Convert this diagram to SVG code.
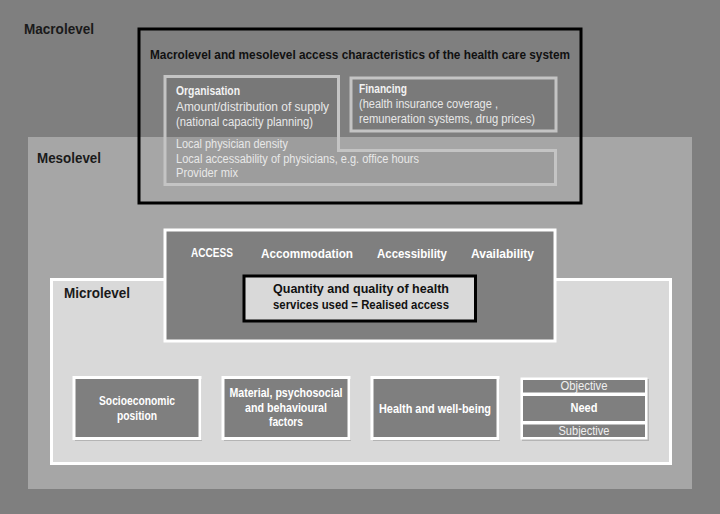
<svg xmlns="http://www.w3.org/2000/svg" width="720" height="514" viewBox="0 0 720 514">
<style>
text{font-family:"Liberation Sans","DejaVu Sans",sans-serif;}
.lvl{font-size:14px;font-weight:bold;fill:#1a1a1a;}
.hd{font-size:13px;font-weight:bold;fill:#111;}
.lt{font-size:12px;fill:#e8e8e8;}
.ltb{font-size:12px;font-weight:bold;fill:#f2f2f2;}
.acc{font-size:13px;font-weight:bold;fill:#fff;}
.wb{font-size:12px;font-weight:bold;fill:#fff;text-anchor:middle;}
.wr{font-size:12px;fill:#f0f0f0;text-anchor:middle;}
.box{fill:#7f7f7f;stroke:#fff;stroke-width:3;}
.shadow{fill:#b4b4b4;}
.outline{fill:none;stroke:#c4c4c4;stroke-width:3;}
</style>
<rect x="0" y="0" width="720" height="514" fill="#7f7f7f"/>
<g id="mesolevel">
<rect x="28" y="137" width="664" height="352" fill="#a6a6a6"/>
<text class="lvl" x="37" y="163" textLength="64" lengthAdjust="spacingAndGlyphs">Mesolevel</text>
</g>
<g id="macrolevel-label">
<text class="lvl" x="24" y="34" textLength="70" lengthAdjust="spacingAndGlyphs">Macrolevel</text>
</g>
<g id="microlevel">
<rect x="51.5" y="279.5" width="619" height="184" fill="#d9d9d9" stroke="#fff" stroke-width="3"/>
<text class="lvl" x="64" y="298" textLength="66" lengthAdjust="spacingAndGlyphs">Microlevel</text>
</g>
<g id="health-care-system">
<rect x="139" y="29" width="442" height="174" fill="none" stroke="#000" stroke-width="3"/>
<text class="hd" x="150" y="59" textLength="420" lengthAdjust="spacingAndGlyphs">Macrolevel and mesolevel access characteristics of the health care system</text>
</g>
<g id="organisation">
<path d="M165,76.5 H338.5 V150.5 H555.5 V184.5 H165 Z" fill="#000" fill-opacity="0.05"/>
<path class="outline" d="M165,76.5 H338.5 V150.5 H555.5 V184.5 H165 Z"/>
<text class="ltb" x="176" y="95" textLength="64" lengthAdjust="spacingAndGlyphs">Organisation</text>
<text class="lt" x="176" y="111" textLength="153" lengthAdjust="spacingAndGlyphs">Amount/distribution of  supply</text>
<text class="lt" x="176" y="125.5" textLength="137" lengthAdjust="spacingAndGlyphs">(national capacity planning)</text>
<text class="lt" x="176" y="148" textLength="112" lengthAdjust="spacingAndGlyphs">Local physician density</text>
<text class="lt" x="176" y="162.5" textLength="243" lengthAdjust="spacingAndGlyphs">Local accessability of physicians, e.g. office hours</text>
<text class="lt" x="176" y="177" textLength="62" lengthAdjust="spacingAndGlyphs">Provider mix</text>
</g>
<g id="financing">
<rect x="351" y="78" width="205" height="53" fill="#7a7a7a" stroke="#c4c4c4" stroke-width="3"/>
<text class="ltb" x="359" y="93" textLength="48" lengthAdjust="spacingAndGlyphs">Financing</text>
<text class="lt" x="359" y="107.5" textLength="139" lengthAdjust="spacingAndGlyphs">(health insurance coverage ,</text>
<text class="lt" x="359" y="122.5" textLength="176" lengthAdjust="spacingAndGlyphs">remuneration systems, drug prices)</text>
</g>
<g id="access">
<rect class="box" x="165" y="230" width="390" height="111"/>
<text class="acc" x="191" y="256.5" textLength="42" lengthAdjust="spacingAndGlyphs">ACCESS</text>
<text class="acc" x="261" y="257.5" textLength="92" lengthAdjust="spacingAndGlyphs">Accommodation</text>
<text class="acc" x="377" y="257.5" textLength="70" lengthAdjust="spacingAndGlyphs">Accessibility</text>
<text class="acc" x="471" y="257.5" textLength="63" lengthAdjust="spacingAndGlyphs">Availability</text>
</g>
<g id="realised-access">
<rect x="244" y="276" width="231.5" height="45" fill="#d9d9d9" stroke="#000" stroke-width="3"/>
<text class="hd" x="273" y="293" textLength="176" lengthAdjust="spacingAndGlyphs">Quantity and quality of  health</text>
<text class="hd" x="273" y="309" textLength="176" lengthAdjust="spacingAndGlyphs">services used = Realised access</text>
</g>
<g id="socioeconomic">
<rect class="shadow" x="75" y="379" width="127" height="62"/>
<rect class="box" x="74" y="377.5" width="126" height="61"/>
<text class="wb" x="137" y="405" textLength="76" lengthAdjust="spacingAndGlyphs">Socioeconomic</text>
<text class="wb" x="137" y="419.5" textLength="40" lengthAdjust="spacingAndGlyphs">position</text>
</g>
<g id="material">
<rect class="shadow" x="224" y="379" width="127" height="62"/>
<rect class="box" x="223" y="377.5" width="126" height="61"/>
<text class="wb" x="286" y="396.5" textLength="113" lengthAdjust="spacingAndGlyphs">Material, psychosocial</text>
<text class="wb" x="286" y="411.5" textLength="82" lengthAdjust="spacingAndGlyphs">and behavioural</text>
<text class="wb" x="286" y="426" textLength="34" lengthAdjust="spacingAndGlyphs">factors</text>
</g>
<g id="health">
<rect class="shadow" x="373" y="379" width="127" height="62"/>
<rect class="box" x="372" y="377.5" width="126" height="61"/>
<text class="wb" x="435" y="412.5" textLength="112" lengthAdjust="spacingAndGlyphs">Health and well-being</text>
</g>
<g id="need">
<rect class="shadow" x="522" y="379" width="127" height="62"/>
<rect x="520.5" y="377.5" width="127" height="62" fill="#fff"/>
<rect x="523" y="380" width="122" height="12.5" fill="#7f7f7f"/>
<rect x="523" y="396" width="122" height="25" fill="#7f7f7f"/>
<rect x="523" y="424.5" width="122" height="12.5" fill="#7f7f7f"/>
<text class="wr" x="584" y="390" textLength="47" lengthAdjust="spacingAndGlyphs">Objective</text>
<text class="wb" x="584" y="412" textLength="27" lengthAdjust="spacingAndGlyphs">Need</text>
<text class="wr" x="584" y="435" textLength="51" lengthAdjust="spacingAndGlyphs">Subjective</text>
</g>
<g id="connectors"></g>
</svg>
